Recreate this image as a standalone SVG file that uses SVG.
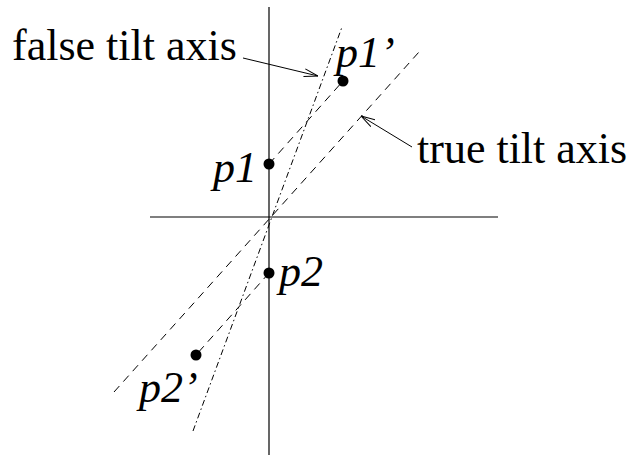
<svg xmlns="http://www.w3.org/2000/svg" width="629" height="458" viewBox="0 0 629 458">
<style>
.ax{stroke:#000;stroke-width:1.2;fill:none}
.dash{stroke:#000;stroke-width:1;fill:none;stroke-dasharray:8 6}
.dd{stroke:#000;stroke-width:1;fill:none;stroke-dasharray:6 3 1.5 3}
.lead{stroke:#000;stroke-width:1;fill:none}
.t{font-family:"Liberation Serif","Times New Roman",serif;font-size:44px;fill:#000}
.i{font-style:italic}
</style>
<defs>
<marker id="open" viewBox="0 0 14 10" refX="14" refY="5" markerWidth="14" markerHeight="10" markerUnits="userSpaceOnUse" orient="auto">
<path d="M0,1 L14,5 L0,9" fill="none" stroke="#000" stroke-width="1"/>
</marker>
</defs>
<g id="connectors">
<line class="ax" x1="269" y1="7" x2="269" y2="455"/>
<line class="ax" x1="150" y1="217" x2="498" y2="217"/>
<line class="dash" x1="114" y1="392" x2="419" y2="52"/>
<line class="dd" x1="193" y1="431" x2="342" y2="27"/>
<line class="dash" x1="269" y1="164" x2="343" y2="81"/>
<line class="dash" x1="269" y1="273" x2="196" y2="355"/>
<line class="lead" x1="243" y1="58" x2="318" y2="76" marker-end="url(#open)"/>
<line class="lead" x1="412" y1="147" x2="361" y2="116" marker-end="url(#open)"/>
</g>
<g id="p1"><circle cx="269" cy="164" r="5.5"/><text class="t i" x="213" y="182">p1</text></g>
<g id="p1prime"><circle cx="343" cy="81" r="5.5"/><text class="t i" x="336" y="67">p1’</text></g>
<g id="p2"><circle cx="269" cy="273" r="5.5"/><text class="t i" x="279" y="286">p2</text></g>
<g id="p2prime"><circle cx="196" cy="355" r="5.5"/><text class="t i" x="139" y="402">p2’</text></g>
<g id="false-label"><text class="t" x="12" y="60">false tilt axis</text></g>
<g id="true-label"><text class="t" x="417" y="163">true tilt axis</text></g>
</svg>
